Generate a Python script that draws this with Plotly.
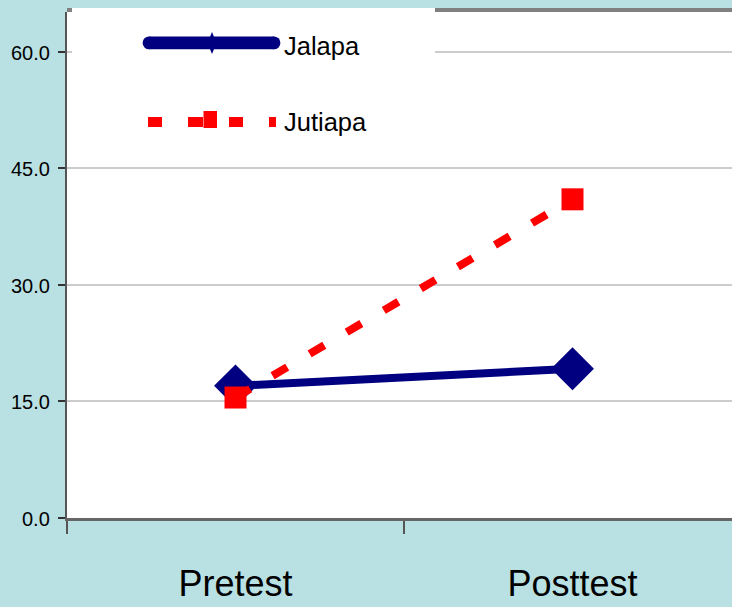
import plotly.graph_objects as go

# ---- data ----
categories = ["Pretest", "Posttest"]
series_names = ["Jalapa", "Jutiapa"]
jalapa_values = [17.0, 19.2]
jutiapa_values = [15.5, 41.0]
y_tick_values = [0, 15, 30, 45, 60]
y_tick_labels = [f"{v:.1f}" for v in y_tick_values]

# ---- layout constants ----
W, H = 732, 607
ML, MR, MT, MB = 67, 0, 12, 89
PW, PH = W - ML - MR, H - MT - MB
NAVY = "#000080"
RED = "#ff0000"
BG = "#b9e0e3"
FONT = "Liberation Sans, Arial, sans-serif"


def px(x):
    return (x - ML) / PW


def py(y):
    return (H - MB - y) / PH


fig = go.Figure()
fig.add_trace(go.Scatter(
    x=categories, y=jalapa_values, name=series_names[0], mode="lines+markers",
    line=dict(color=NAVY, width=8),
    marker=dict(symbol="diamond", size=33, color=NAVY),
    showlegend=False,
))
fig.add_trace(go.Scatter(
    x=categories, y=jutiapa_values, name=series_names[1], mode="lines+markers",
    line=dict(color=RED, width=8, dash="17px,26px"),
    marker=dict(symbol="square", size=22, color=RED),
    showlegend=False,
))

shapes = []
# top border of plot area
shapes.append(dict(type="line", xref="paper", yref="paper", x0=0, x1=1, y0=1.004, y1=1.004,
                   line=dict(color="#808080", width=4), layer="above"))
# legend box (white, no border)
shapes.append(dict(type="rect", xref="paper", yref="paper", x0=px(72), x1=px(435), y0=py(150), y1=py(8),
                   fillcolor="white", line=dict(width=0), layer="above"))
# Jalapa legend symbol: thick rounded line with small diamond
shapes.append(dict(type="rect", xref="paper", yref="paper", x0=px(149), x1=px(274), y0=py(49.3), y1=py(36.5),
                   fillcolor=NAVY, line=dict(width=0), layer="above"))
for cx in (149, 274):
    shapes.append(dict(type="circle", xref="paper", yref="paper", x0=px(cx - 6.4), x1=px(cx + 6.4),
                       y0=py(49.3), y1=py(36.5), fillcolor=NAVY, line=dict(width=0), layer="above"))
shapes.append(dict(type="path", xref="paper", yref="paper",
                   path=f"M{px(212)},{py(32)} L{px(216.5)},{py(43)} L{px(212)},{py(54)} L{px(207.5)},{py(43)} Z",
                   fillcolor=NAVY, line=dict(width=0), layer="above"))
# Jutiapa legend symbol: dashes with square
for a, b in ((148, 162), (188, 203), (229, 243), (269, 276)):
    shapes.append(dict(type="rect", xref="paper", yref="paper", x0=px(a), x1=px(b), y0=py(127), y1=py(117),
                       fillcolor=RED, line=dict(width=0), layer="above"))
shapes.append(dict(type="rect", xref="paper", yref="paper", x0=px(203.5), x1=px(217), y0=py(128), y1=py(111),
                   fillcolor=RED, line=dict(width=0), layer="above"))

annotations = [
    dict(text=series_names[0], xref="paper", yref="paper", x=px(282), y=py(46), xanchor="left", yanchor="middle",
         showarrow=False, font=dict(family=FONT, size=25.5, color="#000")),
    dict(text=series_names[1], xref="paper", yref="paper", x=px(282), y=py(122), xanchor="left", yanchor="middle",
         showarrow=False, font=dict(family=FONT, size=25.5, color="#000")),
]
# y tick labels placed through the y axis
for v, lab in zip(y_tick_values, y_tick_labels):
    annotations.append(dict(text=lab, xref="paper", yref="y", x=px(52), y=v, xanchor="right", yanchor="middle",
                            yshift=-1, showarrow=False, font=dict(family=FONT, size=20, color="#000")))

fig.update_layout(
    width=W, height=H,
    margin=dict(l=ML, r=MR, t=MT, b=MB, pad=0),
    paper_bgcolor=BG, plot_bgcolor="white",
    shapes=shapes, annotations=annotations,
    showlegend=False,
    xaxis=dict(
        type="category", range=[-0.5, -0.5 + 2 * PW / 674], tickson="boundaries",
        ticks="outside", ticklen=13, tickwidth=1.5, tickcolor="#555",
        showline=True, linecolor="#666", linewidth=3,
        showgrid=False, zeroline=False,
        tickfont=dict(family=FONT, size=36, color="#000"),
        ticklabelstandoff=32,
    ),
    yaxis=dict(
        range=[0, 65.1], tickvals=y_tick_values, showticklabels=False,
        ticks="outside", ticklen=7, tickwidth=1.5, tickcolor="#333",
        showline=True, linecolor="#555", linewidth=2,
        showgrid=True, gridcolor="#cccccc", gridwidth=1.5, zeroline=False,
    ),
)

post = ("document.documentElement.style.margin='0';document.body.style.margin='0';"
        "document.body.style.padding='0';document.body.style.overflow='hidden';"
        "document.body.style.background='" + BG + "';")
fig.write_html("out.html", post_script=post, config={"displayModeBar": False})
